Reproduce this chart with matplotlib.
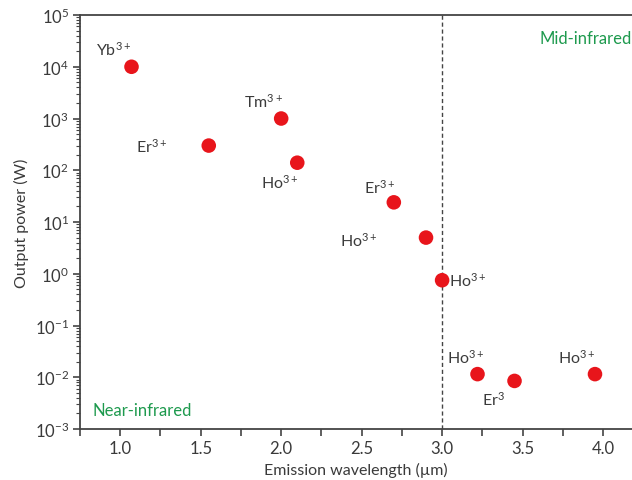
import matplotlib
matplotlib.use("Agg")
import matplotlib.pyplot as plt
from matplotlib.ticker import LogLocator, FixedLocator, MultipleLocator, NullFormatter

plt.rcParams['font.family'] = ['Lato', 'DejaVu Sans']
plt.rcParams['mathtext.fontset'] = 'custom'
plt.rcParams['mathtext.rm'] = 'Lato'
plt.rcParams['mathtext.it'] = 'Lato'
plt.rcParams['mathtext.bf'] = 'Lato'

# Data
ions = ["Yb", "Er", "Tm", "Ho", "Er", "Ho", "Ho", "Ho", "Er", "Ho"]
charges = ["3+", "3+", "3+", "3+", "3+", "3+", "3+", "3+", "3", "3+"]
wavelength = [1.07, 1.55, 2.0, 2.1, 2.7, 2.9, 3.0, 3.22, 3.45, 3.95]
power = [1e4, 300, 1000, 140, 24, 5.0, 0.75, 0.0115, 0.0085, 0.0115]
# label offsets in pixels (label centre relative to point)
offsets = [(-18, 18), (-57, 0), (-18, 18), (-17, -19), (-14, 16), (-67, -2), (26, 0), (-12, 17), (-21, -18), (-18, 17)]
xlabel = "Emission wavelength (\u00b5m)"
ylabel = "Output power (W)"
xticks = [1.0, 1.5, 2.0, 2.5, 3.0, 3.5, 4.0]
xticklabels = ["1.0", "1.5", "2.0", "2.5", "3.0", "3.5", "4.0"]

fig = plt.figure(figsize=(6.32, 4.81), dpi=100)
ax = fig.add_axes([0.1266, 0.106, 0.8734, 0.8607])

txt = '#3a3a3a'
ax.scatter(wavelength, power, s=110, color='#e8151b', zorder=3, edgecolors='none')
for x, y, ion, ch, (dx, dy) in zip(wavelength, power, ions, charges, offsets):
    ax.annotate(f"{ion}$^{{{ch}}}$", (x, y), xytext=(dx, dy), textcoords='offset pixels',
                ha='center', va='center', fontsize=11.5, color=txt)

ax.axvline(3.0, color='#444444', lw=1.0, ls=(0, (3, 2)), zorder=2)

ax.set_yscale('log')
ax.set_ylim(1e-3, 1e5)
ax.set_xlim(0.75, 4.18)
ax.yaxis.set_major_locator(LogLocator(base=10, numticks=20))
ax.yaxis.set_minor_locator(LogLocator(base=10, subs=range(2, 10), numticks=20))
ax.yaxis.set_minor_formatter(NullFormatter())
ax.xaxis.set_major_locator(FixedLocator(xticks))
ax.xaxis.set_minor_locator(MultipleLocator(0.25))
ax.set_xticklabels(xticklabels)
ax.xaxis.get_offset_text().set_visible(False)
ax.yaxis.get_offset_text().set_visible(False)

ax.spines['right'].set_visible(False)
for s in ['left', 'bottom', 'top']:
    ax.spines[s].set_color('#444444')
    ax.spines[s].set_linewidth(1.3)

ax.tick_params(axis='both', which='major', direction='out', length=5, width=1.2,
               color='#444444', labelsize=12, labelcolor=txt, pad=3)
ax.tick_params(axis='both', which='minor', direction='out', length=3, width=0.8, color='#444444')
ax.tick_params(axis='x', which='minor', length=5, width=1.2)

ax.set_xlabel(xlabel, fontsize=11.5, color=txt, labelpad=4)
ax.set_ylabel(ylabel, fontsize=11.5, color=txt, labelpad=4)

green = '#1e9a4e'
ax.text(0.999, 0.965, "Mid-infrared", transform=ax.transAxes, ha='right', va='top',
        fontsize=12, color=green)
ax.text(0.83, 2.3e-3, "Near-infrared", ha='left', va='center', fontsize=12, color=green)

fig.savefig("out.png", dpi=100)
